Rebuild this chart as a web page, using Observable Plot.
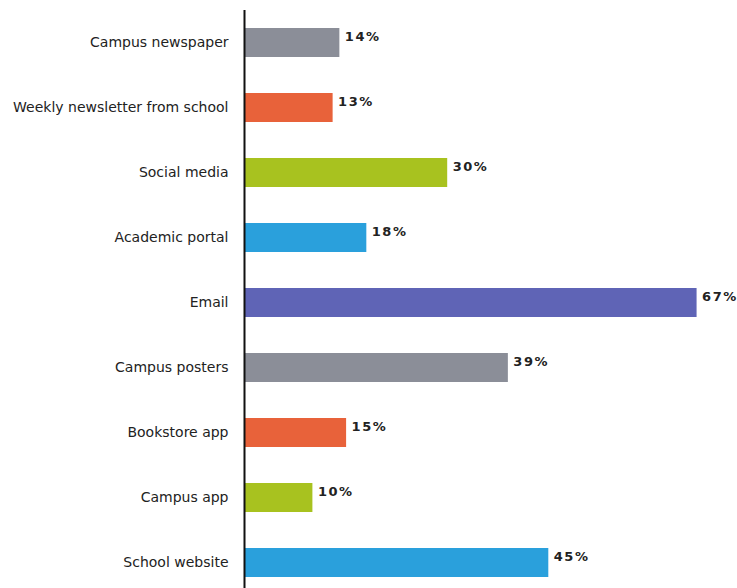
<!DOCTYPE html>
<html><head><meta charset="utf-8">
<script src="https://cdn.jsdelivr.net/npm/d3@7"></script>
<script src="https://cdn.jsdelivr.net/npm/@observablehq/plot@0.6"></script>
<style>body{margin:0;background:#fff}</style>
</head><body><div id="chart"></div>
<script>
const categories = ["Campus newspaper","Weekly newsletter from school","Social media","Academic portal","Email","Campus posters","Bookstore app","Campus app","School website"];
const values = [14,13,30,18,67,39,15,10,45];
const colors = ["#8b8e98","#e8623a","#a8c21f","#2aa0dc","#5f64b6","#8b8e98","#e8623a","#a8c21f","#2aa0dc"];
const data = categories.map((c,i)=>({category:c, value:values[i], color:colors[i]}));

const chart = Plot.plot({
  width: 737, height: 588,
  marginTop: 10, marginBottom: 0, marginLeft: 244, marginRight: 0,
  style: {fontFamily: "DejaVu Sans", fontSize: "14px", color: "#222"},
  x: {domain: [0, 70], range: [245, 245 + 6.74*70], axis: null},
  y: {domain: categories, range: [10, 596], paddingInner: 0.55, paddingOuter: 0.275, label: null, tickSize: 0, tickPadding: 16},
  marks: [
    Plot.barX(data, {x: "value", y: "category", fill: "color"}),
    Plot.text(data, {x: "value", y: "category", text: d => d.value + "%", textAnchor: "start", dx: 5, dy: -6, fontWeight: "bold", fontSize: 13, fill: "#222"}),
    Plot.ruleX([0], {stroke: "#111", strokeWidth: 2, dx: -1})
  ]
});
chart.querySelectorAll("[aria-label='text'] text").forEach(t=>t.style.letterSpacing="1.5px");
document.getElementById("chart").append(chart);
</script></body></html>
